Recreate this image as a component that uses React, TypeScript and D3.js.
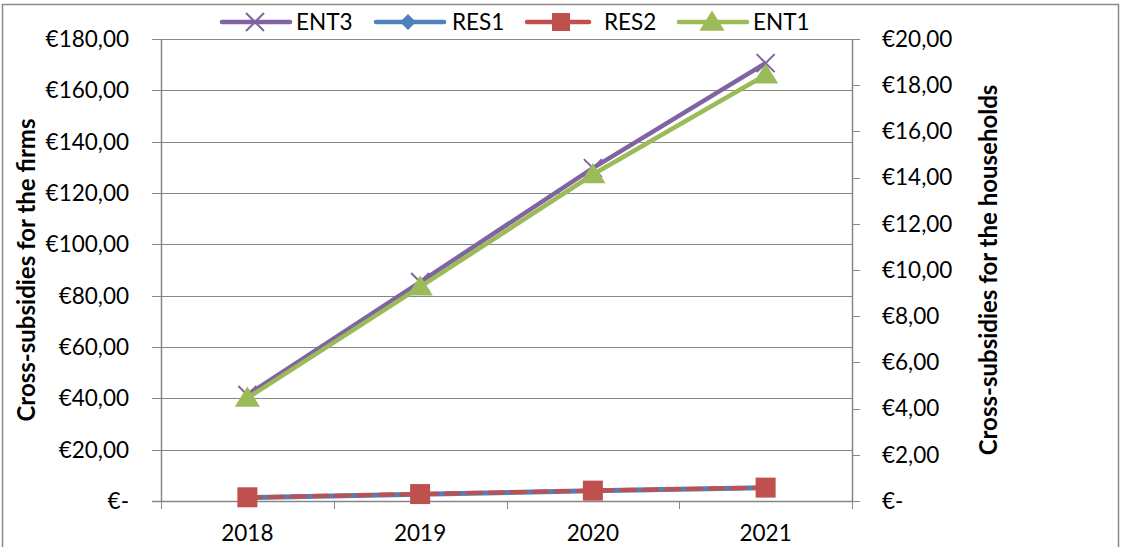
import React from 'react';
import * as d3 from 'd3';

const years = ['2018', '2019', '2020', '2021'];
// firms (left axis)
const ent3 = [41.3, 85.3, 129.7, 170.6];
const ent1 = [40.1, 83.4, 127.2, 166.0];
// households (right axis)
const res1 = [0.15, 0.29, 0.44, 0.57];
const res2 = [0.16, 0.3, 0.45, 0.58];
const leftTicks = [0, 20, 40, 60, 80, 100, 120, 140, 160, 180];
const rightTicks = [0, 2, 4, 6, 8, 10, 12, 14, 16, 18, 20];

const W = 1123;
const H = 547;
const FONT = 'Lato, "Open Sans", sans-serif';
const FS = 22.5;
const GRID = '#868686';

const fmtEuro = (v: number) => (v === 0 ? '€-' : '€' + d3.format('.2f')(v).replace('.', ','));

const xMarker = (s: number) => `M${-s},${-s}L${s},${s}M${-s},${s}L${s},${-s}`;
const triMarker = (s: number) => `M0,${-s}L${s * 1.1},${s * 0.75}L${-s * 1.1},${s * 0.75}Z`;
const diamond = (s: number) => `M0,${-s}L${s},0L0,${s}L${-s},0Z`;

const App = () => {
  const left = 161, right = 852, top = 39, bottom = 501;
  const x = d3.scaleBand().domain(years).range([left, right]);
  const yL = d3.scaleLinear().domain([0, 180]).range([bottom, top]);
  const yR = d3.scaleLinear().domain([0, 20]).range([bottom, top]);
  const cx = (d: string) => (x(d) as number) + x.bandwidth() / 2;

  const lineL = d3.line<number>().x((_, i) => cx(years[i])).y(d => yL(d));
  const lineR = d3.line<number>().x((_, i) => cx(years[i])).y(d => yR(d));

  const legend = [
    { name: 'ENT3', color: '#8064A2', x0: 220, kind: 'x', tx: 296 },
    { name: 'RES1', color: '#4F81BD', x0: 374, kind: 'diamond', tx: 452 },
    { name: 'RES2', color: '#C0504D', x0: 525, kind: 'square', tx: 604 },
    { name: 'ENT1', color: '#9BBB59', x0: 677, kind: 'tri', tx: 753 },
  ];

  return (
    <div style={{ position: 'fixed', left: 0, top: 0 }}>
      <svg width={W} height={H} style={{ display: 'block', background: '#fff' }}>
        <rect x={2.5} y={4.5} width={1116} height={560} fill="#fff" stroke="#8a8a8a" strokeWidth={1.5} />

        {/* gridlines */}
        {leftTicks.map(t => (
          <line key={'g' + t} x1={152} x2={right} y1={Math.round(yL(t)) + 0.5} y2={Math.round(yL(t)) + 0.5} stroke={GRID} strokeWidth={1} />
        ))}
        {/* left axis */}
        <line x1={left + 0.5} x2={left + 0.5} y1={top} y2={bottom} stroke={GRID} strokeWidth={1.5} />
        {leftTicks.map(t => (
          <text key={'l' + t} x={129} y={yL(t)} dy="0.35em" textAnchor="end" fontFamily={FONT} fontSize={FS} fill="#000">
            {fmtEuro(t)}
          </text>
        ))}
        {/* right axis */}
        <line x1={right + 0.5} x2={right + 0.5} y1={top} y2={bottom} stroke={GRID} strokeWidth={1.5} />
        {rightTicks.map(t => (
          <g key={'r' + t}>
            <line x1={right} x2={right + 8} y1={Math.round(yR(t)) + 0.5} y2={Math.round(yR(t)) + 0.5} stroke={GRID} strokeWidth={1} />
            <text x={882} y={yR(t)} dy="0.35em" textAnchor="start" fontFamily={FONT} fontSize={FS} fill="#000">
              {fmtEuro(t)}
            </text>
          </g>
        ))}
        {/* x axis */}
        <line x1={152} x2={right} y1={bottom + 0.5} y2={bottom + 0.5} stroke={GRID} strokeWidth={1.5} />
        {[...years.map(y => x(y) as number), right].map((v, i) => (
          <line key={'xt' + i} x1={Math.round(v) + 0.5} x2={Math.round(v) + 0.5} y1={bottom} y2={bottom + 8} stroke={GRID} strokeWidth={1} />
        ))}
        {years.map(y => (
          <text key={'xl' + y} x={cx(y)} y={541} textAnchor="middle" fontFamily={FONT} fontSize={FS} fill="#000">
            {y}
          </text>
        ))}

        {/* axis titles */}
        <text transform={`translate(35,270) rotate(-90)`} textAnchor="middle" fontFamily={FONT} fontSize={24} fontWeight="bold" fill="#000">
          Cross-subsidies for the firms
        </text>
        <text transform={`translate(997,270) rotate(-90)`} textAnchor="middle" fontFamily={FONT} fontSize={24} fontWeight="bold" fill="#000">
          Cross-subsidies for the households
        </text>

        {/* ENT3 */}
        <path d={lineL(ent3) as string} fill="none" stroke="#8064A2" strokeWidth={4.5} />
        {ent3.map((v, i) => (
          <path key={'e3' + i} d={xMarker(9)} transform={`translate(${cx(years[i])},${yL(v)})`} stroke="#8064A2" strokeWidth={2} fill="none" />
        ))}
        {/* RES1 */}
        <path d={lineR(res1) as string} fill="none" stroke="#4F81BD" strokeWidth={5} />
        {res1.map((v, i) => (
          <path key={'r1' + i} d={diamond(8)} transform={`translate(${cx(years[i])},${yR(v)})`} fill="#4F81BD" />
        ))}
        {/* RES2 */}
        <path d={lineR(res2) as string} fill="none" stroke="#C0504D" strokeWidth={4} strokeDasharray="14 8" strokeLinecap="round" />
        {res2.map((v, i) => (
          <rect key={'r2' + i} x={cx(years[i]) - 10} y={yR(v) - 10} width={20} height={20} fill="#C0504D" />
        ))}
        {/* ENT1 */}
        <path d={lineL(ent1) as string} fill="none" stroke="#9BBB59" strokeWidth={4.5} />
        {ent1.map((v, i) => (
          <path key={'e1' + i} d={triMarker(11.5)} transform={`translate(${cx(years[i])},${yL(v)})`} fill="#9BBB59" />
        ))}

        {/* legend */}
        {legend.map(l => (
          <g key={l.name} transform={`translate(${l.x0},22)`}>
            <line x1={2} x2={l.kind === 'square' ? 64 : 70} y1={0} y2={0} stroke={l.color} strokeWidth={4.5} strokeLinecap="round" />
            {l.kind === 'x' && <path d={xMarker(9)} transform="translate(35,0)" stroke={l.color} strokeWidth={2} fill="none" />}
            {l.kind === 'diamond' && <path d={diamond(8)} transform="translate(34,0)" fill={l.color} />}
            {l.kind === 'square' && <rect x={27} y={-9} width={18} height={18} fill={l.color} />}
            {l.kind === 'tri' && <path d={triMarker(11.5)} transform="translate(35,0)" fill={l.color} />}
            <text x={l.tx - l.x0} y={0} dy="0.35em" fontFamily={FONT} fontSize={FS} fill="#000">
              {l.name}
            </text>
          </g>
        ))}
      </svg>
    </div>
  );
};

export default App;
